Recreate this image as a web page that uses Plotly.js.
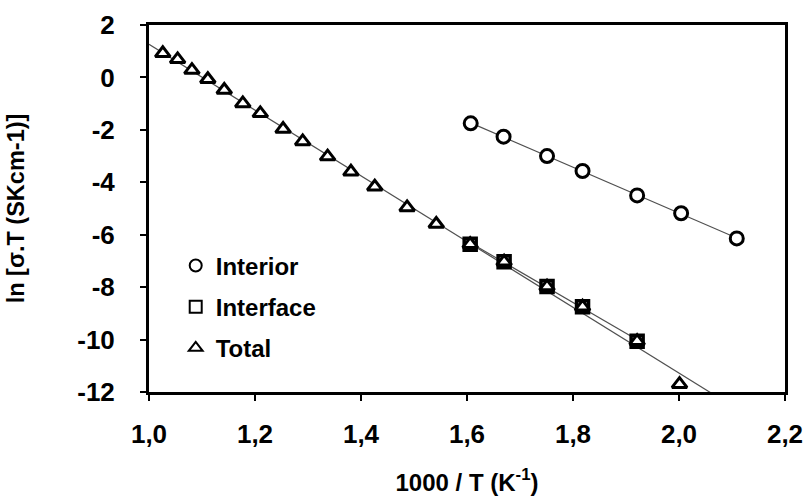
<!DOCTYPE html>
<html>
<head>
<meta charset="utf-8">
<script src="https://cdn.plot.ly/plotly-3.0.1.min.js"></script>
<style>html,body{margin:0;padding:0;background:#fff;}#chart{width:806px;height:498px;}</style>
</head>
<body>
<div id="chart"></div>
<script>
// Data
var interiorX = [1.607, 1.669, 1.751, 1.818, 1.921, 2.004, 2.109];
var interiorY = [-1.75, -2.26, -3.00, -3.57, -4.50, -5.18, -6.14];

var interfaceX = [1.606, 1.670, 1.751, 1.818, 1.921];
var interfaceY = [-6.36, -7.03, -7.98, -8.75, -10.06];

var totalX = [1.026, 1.054, 1.081, 1.111, 1.142, 1.177, 1.210, 1.253, 1.290, 1.337, 1.381, 1.426, 1.487, 1.542, 1.606, 1.670, 1.751, 1.818, 1.921, 2.001];
var totalY = [0.92, 0.69, 0.28, -0.07, -0.48, -0.99, -1.37, -1.97, -2.44, -3.02, -3.60, -4.17, -4.96, -5.59, -6.36, -7.03, -7.98, -8.75, -10.06, -11.70];

var seriesNames = ['Interior', 'Interface', 'Total'];
var xTickVals = [1.0, 1.2, 1.4, 1.6, 1.8, 2.0, 2.2];
var xTickText = ['1,0', '1,2', '1,4', '1,6', '1,8', '2,0', '2,2'];
var yTickVals = [2, 0, -2, -4, -6, -8, -10, -12];
var yTickText = ['2', '0', '-2', '-4', '-6', '-8', '-10', '-12'];

// least-squares linear fit (trendline)
function fit(xs, ys) {
  var n = xs.length, sx = 0, sy = 0, sxx = 0, sxy = 0;
  for (var i = 0; i < n; i++) { sx += xs[i]; sy += ys[i]; sxx += xs[i]*xs[i]; sxy += xs[i]*ys[i]; }
  var m = (n*sxy - sx*sy) / (n*sxx - sx*sx);
  var b = (sy - m*sx) / n;
  return function (x) { return m*x + b; };
}
function trend(xs, ys, x0, x1) {
  var f = fit(xs, ys);
  return { x: [x0, x1], y: [f(x0), f(x1)] };
}

var lineStyle = { color: '#505050', width: 1.2 };
var tInt = trend(interiorX, interiorY, Math.min.apply(null, interiorX), Math.max.apply(null, interiorX));
var tIfc = trend(interfaceX, interfaceY, Math.min.apply(null, interfaceX), Math.max.apply(null, interfaceX));
var tTot = trend(totalX, totalY, 1.0, 2.2);

var data = [
  { x: tInt.x, y: tInt.y, mode: 'lines', line: lineStyle, showlegend: false, hoverinfo: 'skip' },
  { x: tIfc.x, y: tIfc.y, mode: 'lines', line: lineStyle, showlegend: false, hoverinfo: 'skip' },
  { x: tTot.x, y: tTot.y, mode: 'lines', line: lineStyle, showlegend: false, hoverinfo: 'skip' },
  { x: interiorX, y: interiorY, name: seriesNames[0], mode: 'markers', legendgroup: 'a',
    marker: { symbol: 'circle', size: 13, color: '#fff', line: { color: '#000', width: 3 } } },
  { x: interfaceX, y: interfaceY, name: seriesNames[1], mode: 'markers', legendgroup: 'b',
    marker: { symbol: 'square', size: 12, color: '#fff', line: { color: '#000', width: 3.5 } } },
  { x: totalX, y: totalY, name: seriesNames[2], mode: 'markers', legendgroup: 'c',
    marker: { symbol: 'triangle-up', size: 13, color: '#fff', line: { color: '#000', width: 3 } } }
];

function F(sz) { return { family: 'Liberation Sans', color: '#000', size: sz, weight: 700 }; }

var layout = {
  width: 806, height: 498,
  margin: { l: 149, r: 21, t: 25, b: 106, autoexpand: false },
  paper_bgcolor: '#fff', plot_bgcolor: '#fff',
  font: F(25),
  showlegend: true,
  legend: {
    x: 0.042, y: 0.405, xanchor: 'left', yanchor: 'top',
    bgcolor: 'rgba(0,0,0,0)', borderwidth: 0,
    font: F(24),
    itemsizing: 'constant', tracegroupgap: 7, itemwidth: 30
  },
  xaxis: {
    range: [1.0, 2.2], tickmode: 'array', tickvals: xTickVals, ticktext: xTickText,
    showgrid: false, zeroline: false,
    showline: true, linecolor: '#000', linewidth: 3, mirror: true,
    ticks: 'outside', ticklen: 6, tickwidth: 2, tickcolor: '#000',
    ticklabelstandoff: 11,
    tickfont: F(26),
    title: { text: '1000 / T (K<sup>-1</sup>)', font: F(24), standoff: 26 }
  },
  yaxis: {
    range: [-12, 2], tickmode: 'array', tickvals: yTickVals, ticktext: yTickText,
    showgrid: false, zeroline: false, automargin: true,
    showline: true, linecolor: '#000', linewidth: 3, mirror: true,
    ticks: 'outside', ticklen: 6, tickwidth: 2, tickcolor: '#000',
    ticklabelstandoff: 20,
    tickfont: F(26),
    title: { text: 'ln [σ.T (SKcm-1)]', font: F(23.5), standoff: 46 }
  }
};

Plotly.newPlot('chart', data, layout, { displayModeBar: false, staticPlot: true });
</script>
</body>
</html>
